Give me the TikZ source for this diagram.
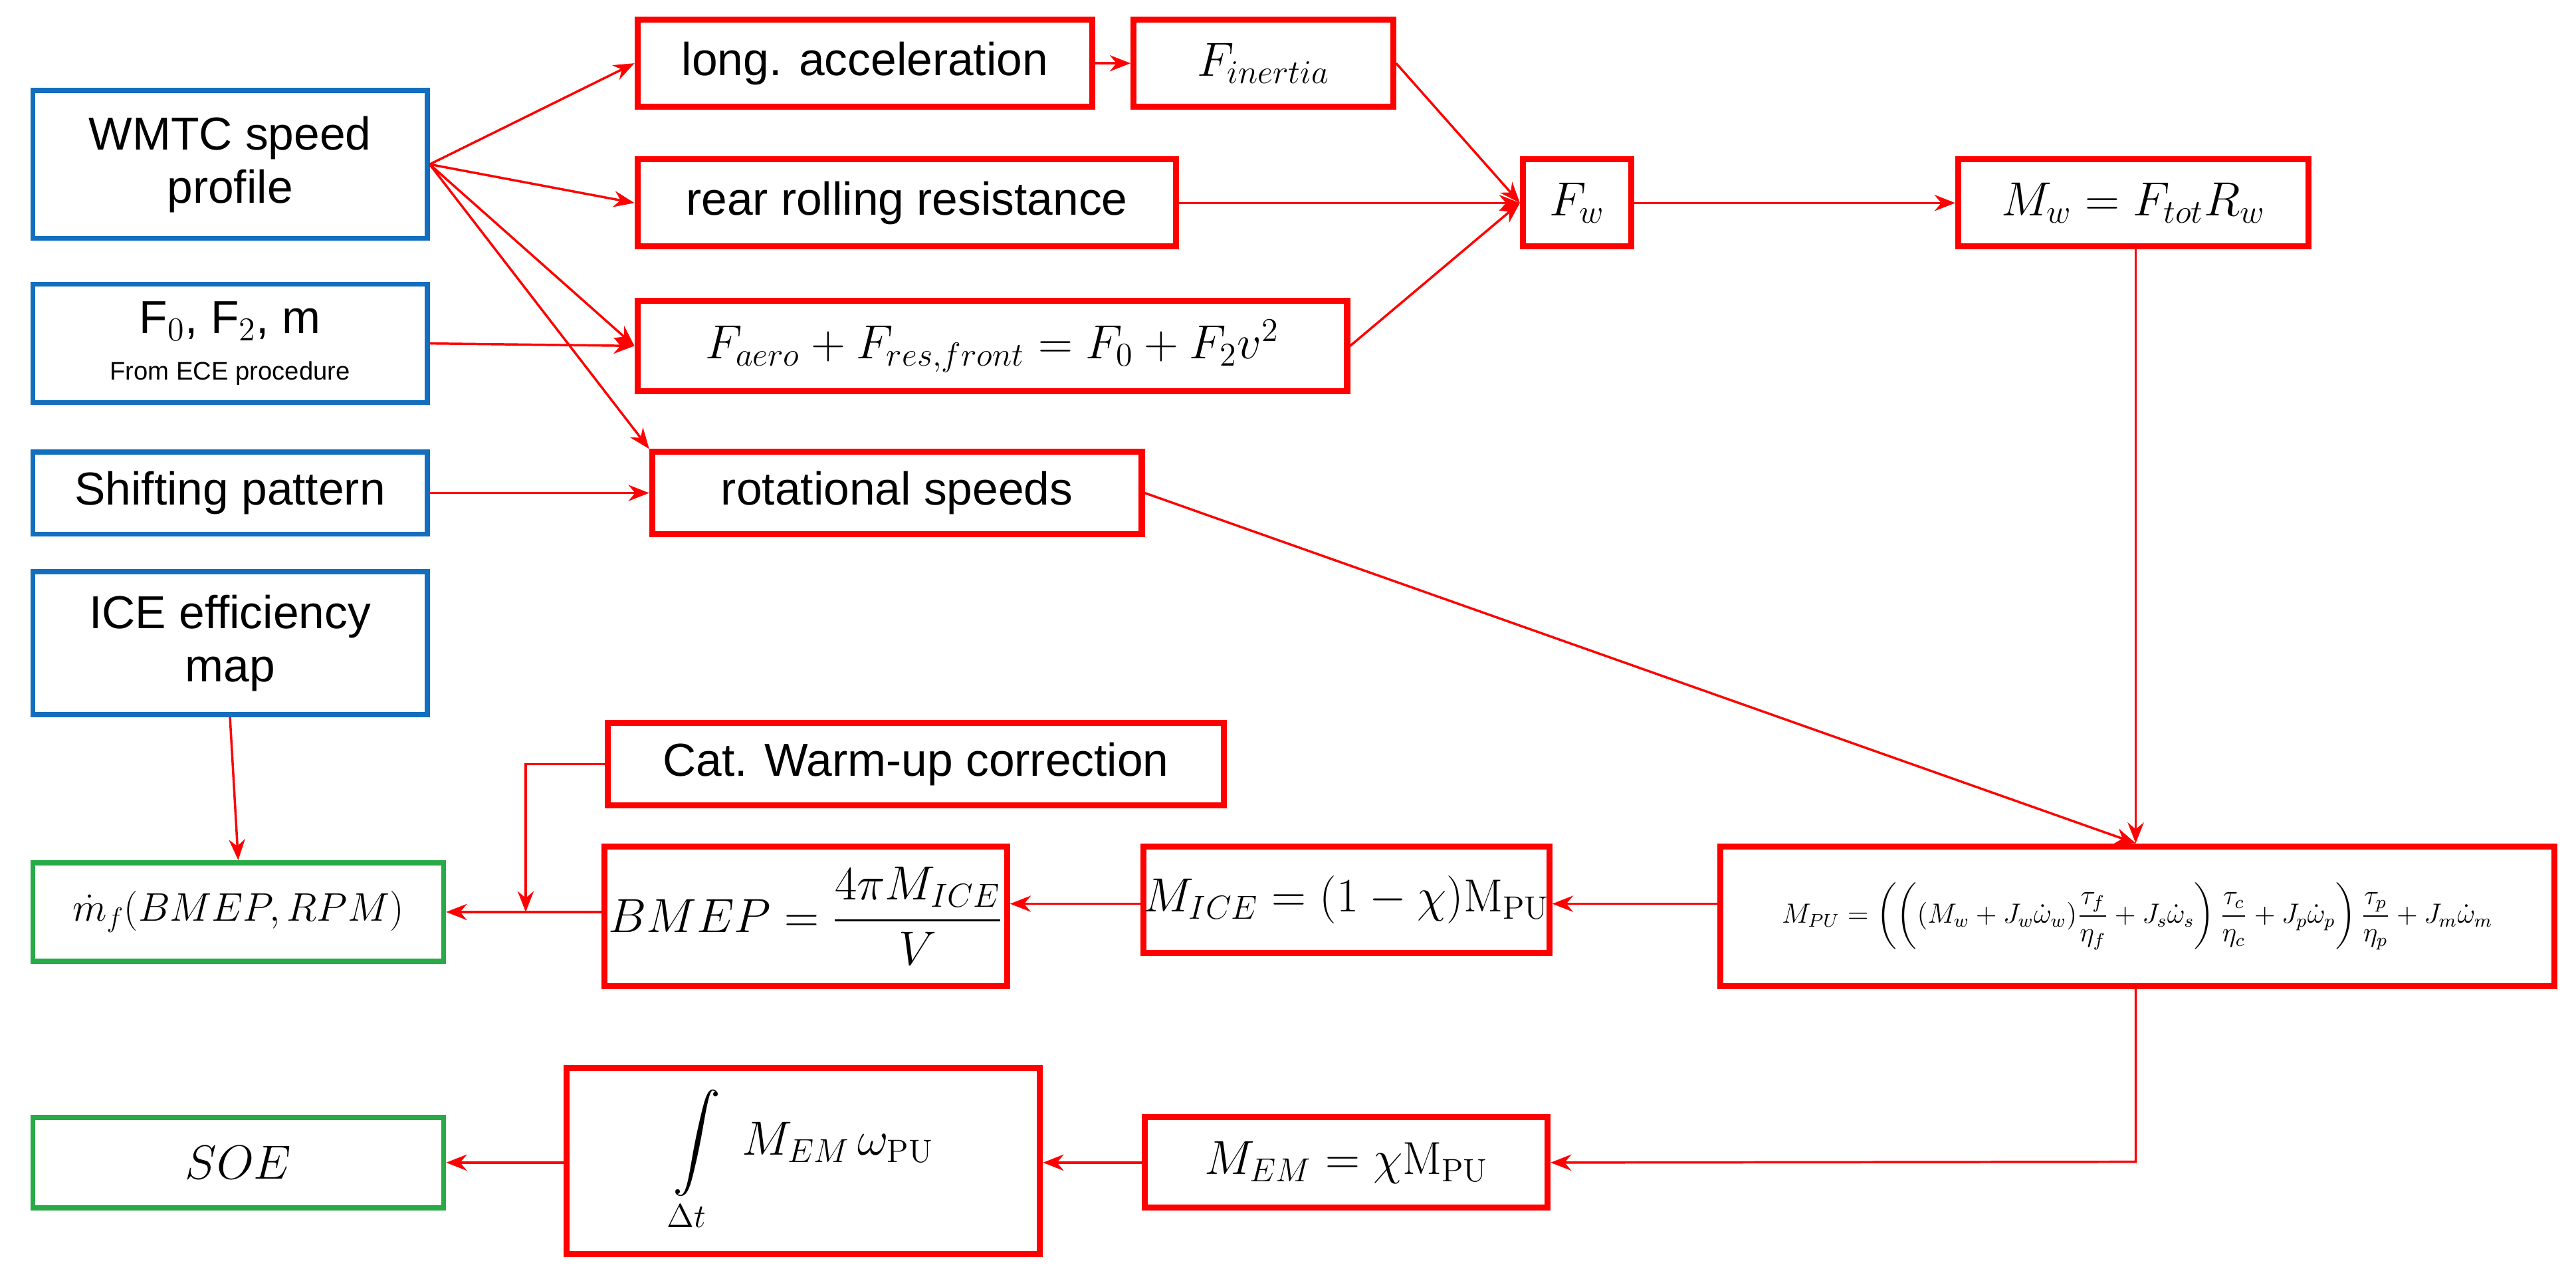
\documentclass[tikz,border=0pt]{standalone}
\usepackage{amsmath}
\usepackage{fontspec}
\setmainfont{Liberation Sans}
\newfontfamily\lmr{Latin Modern Roman}
\usetikzlibrary{arrows.meta}
\begin{document}
\begin{tikzpicture}[x=0.025cm,y=-0.025cm,
  box/.style={draw, line width=2.6pt, fill=white, inner sep=0pt, align=center, font=\fontsize{20}{23}\selectfont},
  bl/.style={box, draw={rgb,255:red,20;green,110;blue,190}, line width=2.2pt},
  rd/.style={box, draw=red},
  gr/.style={box, draw={rgb,255:red,40;green,170;blue,70}, line width=2.2pt},
  mth/.style={font=\fontsize{20}{23}\selectfont},
  con/.style={draw=red, line width=1pt, -{Stealth[length=9pt,width=7pt]}}]
\useasboundingbox (0,0) rectangle (1568,777);
\newcommand{\bx}[6]{\node[#1, minimum width={(#4-#2)*0.025cm}, minimum height={(#5-#3)*0.025cm}] (#6) at ({(#2+#4)/2},{(#3+#5)/2})}
\newcommand{\PUt}{\text{\lmr PU}}
\newcommand{\PU}{\text{\lmr M}_{\PUt}}
\bx{bl}{20}{55}{260}{145}{wmtc} {WMTC speed\\profile};
\bx{bl}{20}{173}{260}{245}{fz} {F$_0$, F$_2$, m\\[-3pt]{\fontsize{11}{12}\selectfont From ECE procedure}};
\bx{bl}{20}{275}{260}{325}{shift} {Shifting pattern};
\bx{bl}{20}{348}{260}{435}{ice} {ICE efficiency\\map};
\bx{rd}{388}{12}{665}{65}{acc} {long. acceleration};
\bx{rd,mth}{690}{12}{848}{65}{fin} {$F_{inertia}$};
\bx{rd}{388}{97}{716}{150}{roll} {rear rolling resistance};
\bx{rd,mth}{388}{183}{820}{238}{aero} {$F_{aero}+F_{res,front}=F_0+F_2v^2$};
\bx{rd}{397}{275}{695}{325}{rot} {rotational speeds};
\bx{rd,mth}{927}{97}{993}{150}{fw} {$F_w$};
\bx{rd,mth}{1192}{97}{1405}{150}{mw} {$M_w=F_{tot}R_w$};
\bx{rd}{370}{440}{745}{490}{cat} {Cat. Warm-up correction};
\bx{rd,mth}{368}{515}{613}{600}{bmep} {$BMEP=\dfrac{4\pi M_{ICE}}{V}$};
\bx{rd,mth}{697}{515}{942}{580}{mice} {$M_{ICE}=(1-\chi)\PU$};
\bx{rd}{1047}{515}{1555}{600}{mpu} {\fontsize{11.5}{13}\selectfont$M_{PU}=\left(\left((M_w+J_w\dot\omega_w)\dfrac{\tau_f}{\eta_f}+J_s\dot\omega_s\right)\dfrac{\tau_c}{\eta_c}+J_p\dot\omega_p\right)\dfrac{\tau_p}{\eta_p}+J_m\dot\omega_m$};
\bx{gr}{20}{525}{270}{585}{mf} {\fontsize{16.5}{19}\selectfont$\dot m_f(BMEP,RPM)$};
\bx{rd,mth}{697}{680}{942}{735}{mem} {$M_{EM}=\chi\PU$};
\bx{rd,mth}{345}{650}{633}{763}{int} {$\displaystyle\int\limits_{\Delta t}\; M_{EM}\,\omega_{\PUt}$};
\bx{gr,mth}{20}{680}{270}{735}{soe} {$SOE$};
\coordinate (c1) at (320,465);
\coordinate (c2) at (1300,707);
\coordinate (m) at (0,550);
\draw[con] (wmtc.east) -- (acc.west);
\draw[con] (wmtc.east) -- (roll.west);
\draw[con] (wmtc.east) -- (aero.west);
\draw[con] (wmtc.east) -- (rot.north west);
\draw[con] (fz.east) -- (aero.west);
\draw[con] (shift.east) -- (rot.west);
\draw[con] (acc.east) -- (fin.west);
\draw[con] (fin.east) -- (fw.west);
\draw[con] (roll.east) -- (fw.west);
\draw[con] (aero.east) -- (fw.west);
\draw[con] (fw.east) -- (mw.west);
\draw[con] (mw.south -| c2) -- (mpu.north -| c2);
\draw[con] (rot.east) -- (mpu.north -| c2);
\draw[con] (mpu.west |- m) -- (mice.east |- m);
\draw[con] (mice.west |- m) -- (bmep.east |- m);
\draw[con] (bmep.west |- mf.east) -- (mf.east);
\draw[con] (cat.west) -- (c1) -- (c1 |- mf.east);
\draw[con] (ice.south) -- (mf.north);
\draw[con] (mpu.south -| c2) -- (c2) -- (mem.east);
\draw[con] (mem.west) -- (int.east |- mem.west);
\draw[con] (int.west |- soe.east) -- (soe.east);
\end{tikzpicture}
\end{document}
